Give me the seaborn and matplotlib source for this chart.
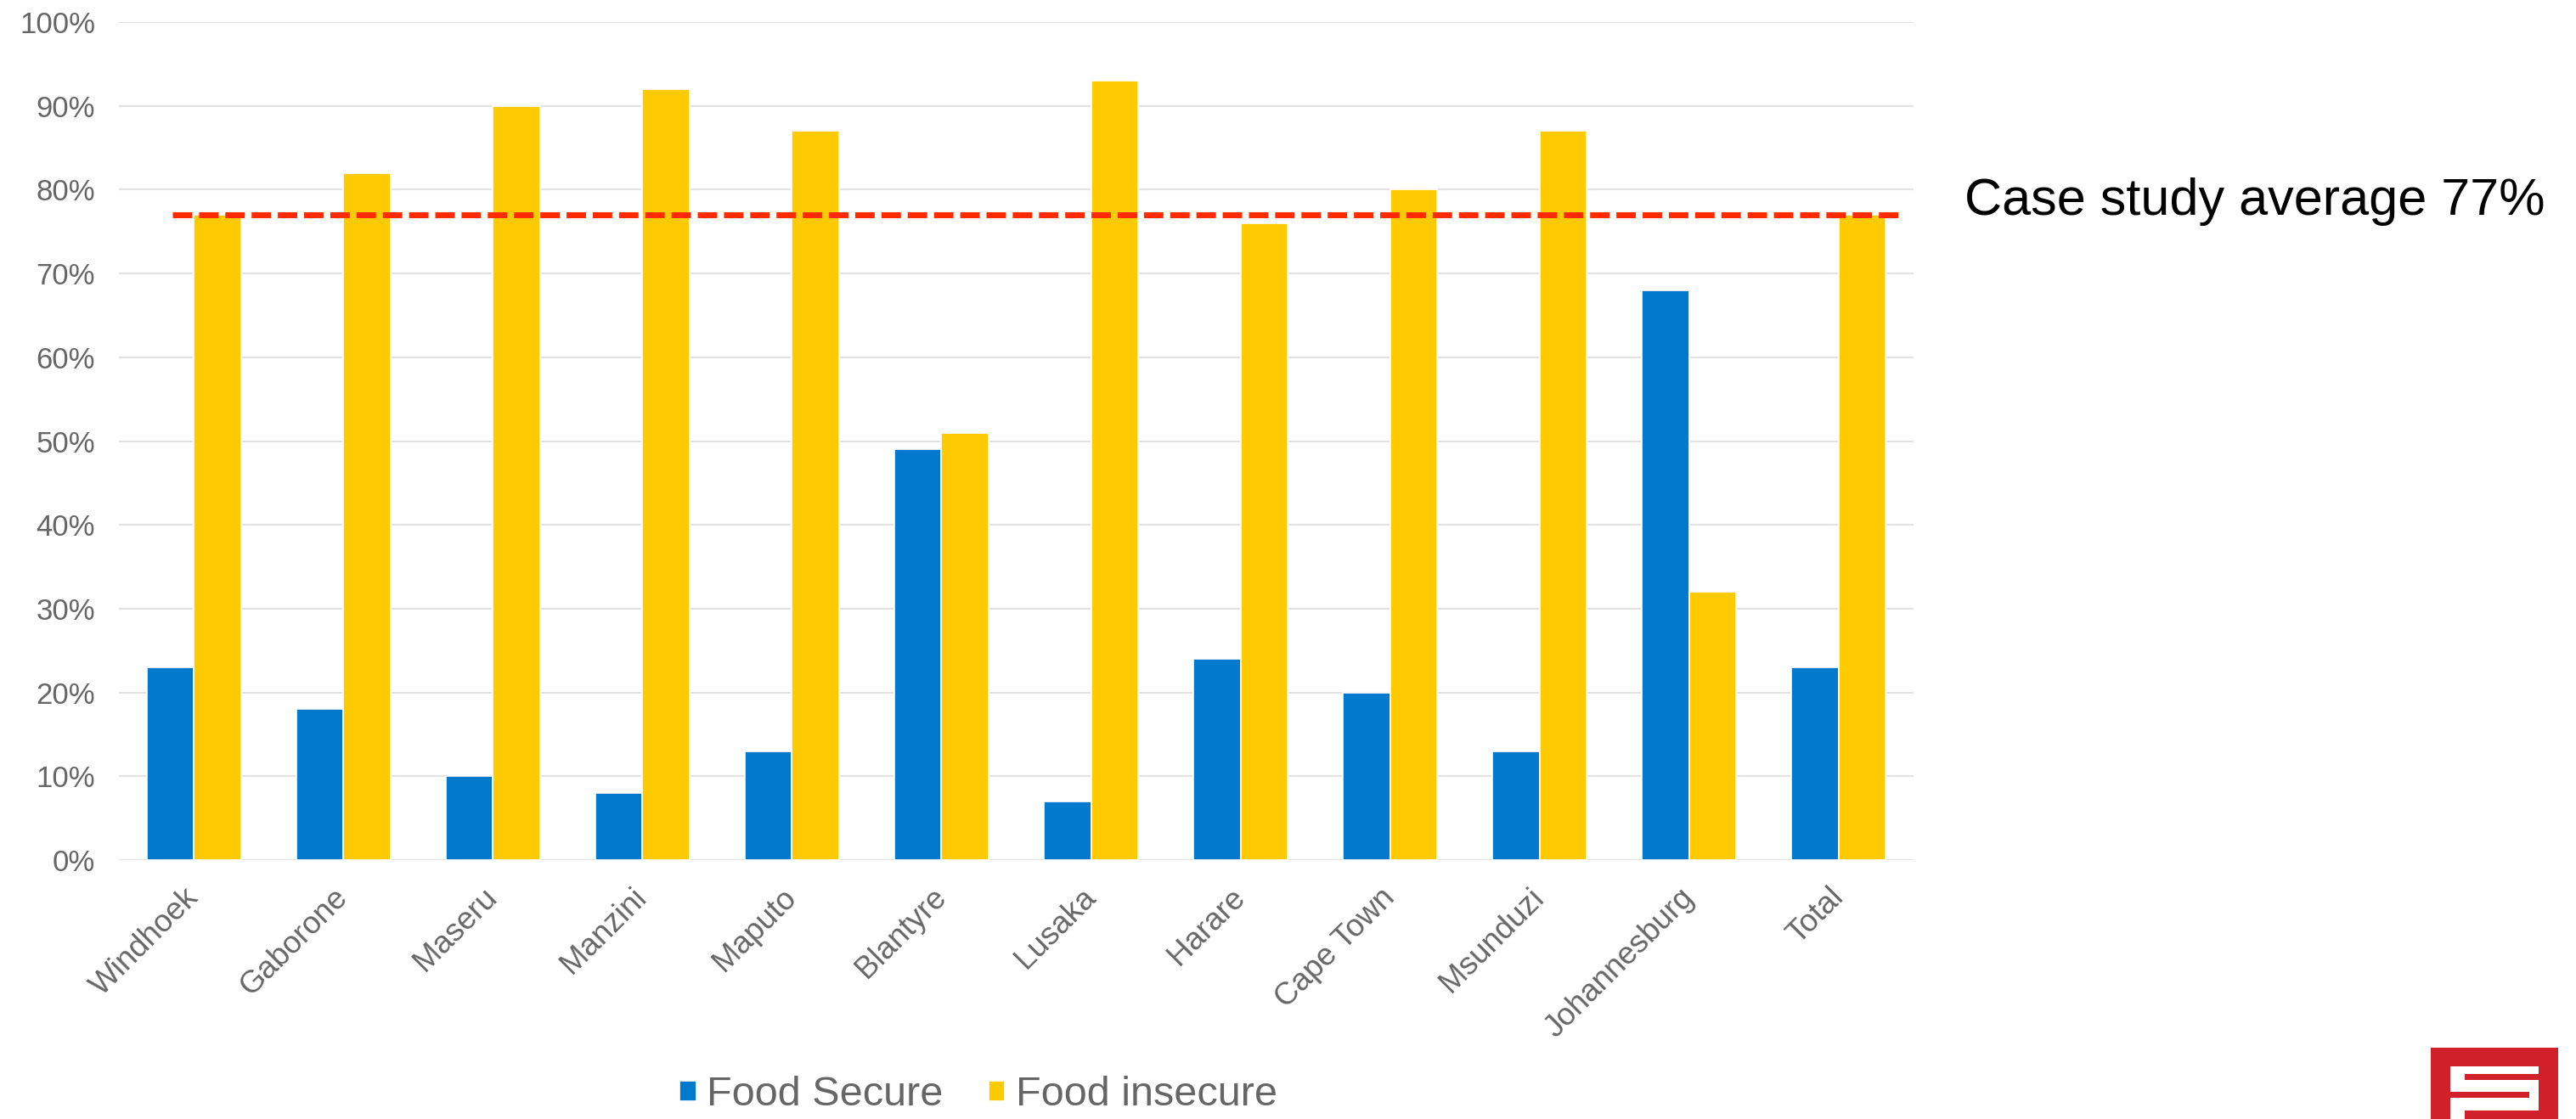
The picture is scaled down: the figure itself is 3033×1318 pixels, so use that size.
import matplotlib
matplotlib.use("Agg")
import matplotlib.pyplot as plt
from matplotlib.patches import Rectangle
from matplotlib.ticker import FuncFormatter, MultipleLocator
import seaborn as sns
import pandas as pd

# Survey results: share of households by food security status (%)
cities = ["Windhoek", "Gaborone", "Maseru", "Manzini", "Maputo", "Blantyre",
          "Lusaka", "Harare", "Cape Town", "Msunduzi", "Johannesburg", "Total"]
food_secure = [23, 18, 10, 8, 13, 49, 7, 24, 20, 13, 68, 23]
food_insecure = [77, 82, 90, 92, 87, 51, 93, 76, 80, 87, 32, 77]
series_names = ["Food Secure", "Food insecure"]
average_insecure = 77

BLUE = "#0279CD"
YELLOW = "#FFCB00"
RED_LINE = "#FF2A00"
GREY_TEXT = "#666666"
GRID = "#E3E3E3"
LOGO_RED = "#D0212A"

df = pd.DataFrame({
    "city": cities * 2,
    "status": [series_names[0]] * len(cities) + [series_names[1]] * len(cities),
    "value": food_secure + food_insecure,
})

sns.set_theme(style="white")
plt.rcParams["font.family"] = ["Liberation Sans", "DejaVu Sans"]

W, H = 3033, 1318
fig = plt.figure(figsize=(W / 100, H / 100), dpi=100)
ax = fig.add_axes([140 / W, 1 - 1013 / H, (2253 - 140) / W, (1013 - 26) / H])

sns.barplot(data=df, x="city", y="value", hue="status",
            palette=[BLUE, YELLOW], width=0.63, dodge=True,
            edgecolor="white", linewidth=1.2, saturation=1,
            order=cities, hue_order=series_names, ax=ax, zorder=3)

ax.set_xlim(-0.5, len(cities) - 0.5)
ax.set_ylim(0, 100)
ax.yaxis.set_major_locator(MultipleLocator(10))
ax.yaxis.set_major_formatter(FuncFormatter(lambda v, _: f"{v:.0f}%"))
ax.grid(axis="y", color=GRID, linewidth=1.6, zorder=0)
ax.grid(axis="x", visible=False)
for s in ax.spines.values():
    s.set_visible(False)
ax.set_xlabel("")
ax.set_ylabel("")
ax.tick_params(axis="y", length=0, pad=20, labelsize=25, labelcolor=GREY_TEXT)
ax.tick_params(axis="x", length=0, pad=28, labelsize=26.5, labelcolor=GREY_TEXT)
for lab in ax.get_xticklabels():
    lab.set_rotation(45)
    lab.set_ha("right")
    lab.set_va("center")
    lab.set_rotation_mode("anchor")

# Average reference line
ax.plot([-0.14, len(cities) - 0.56], [average_insecure, average_insecure],
        color=RED_LINE, linewidth=5, dashes=(3.3, 1.15), zorder=4,
        clip_on=False, solid_capstyle="butt", dash_capstyle="butt")
fig.text(2313 / W, 1 - 238 / H, f"Case study average {average_insecure}%",
         fontsize=44, color="black", ha="left", va="center")

# Legend below the chart
handles, labels = ax.get_legend_handles_labels()
ax.get_legend().remove()
fig.legend(handles, labels, loc="center", bbox_to_anchor=(1152 / W, 1 - 1290 / H),
           ncol=2, frameon=False, fontsize=35, handlelength=0.4, handleheight=0.4,
           handletextpad=0.25, columnspacing=1.1, labelcolor=GREY_TEXT,
           borderpad=0, borderaxespad=0)

# Logo in the lower-right corner
def fig_rect(x0, y0, x1, y1, color):
    fig.patches.append(Rectangle((x0 / W, 1 - y1 / H), (x1 - x0) / W, (y1 - y0) / H,
                                 transform=fig.transFigure, color=color, lw=0))

fig_rect(2862, 1234, 3012, 1318, LOGO_RED)
fig_rect(2885, 1256, 2989, 1318, "white")
fig_rect(2902, 1265, 2989, 1272, LOGO_RED)
fig_rect(2885, 1286, 2978, 1293, LOGO_RED)
fig_rect(2902, 1308, 2989, 1318, LOGO_RED)

fig.savefig("out.png", dpi=100, facecolor="white")
